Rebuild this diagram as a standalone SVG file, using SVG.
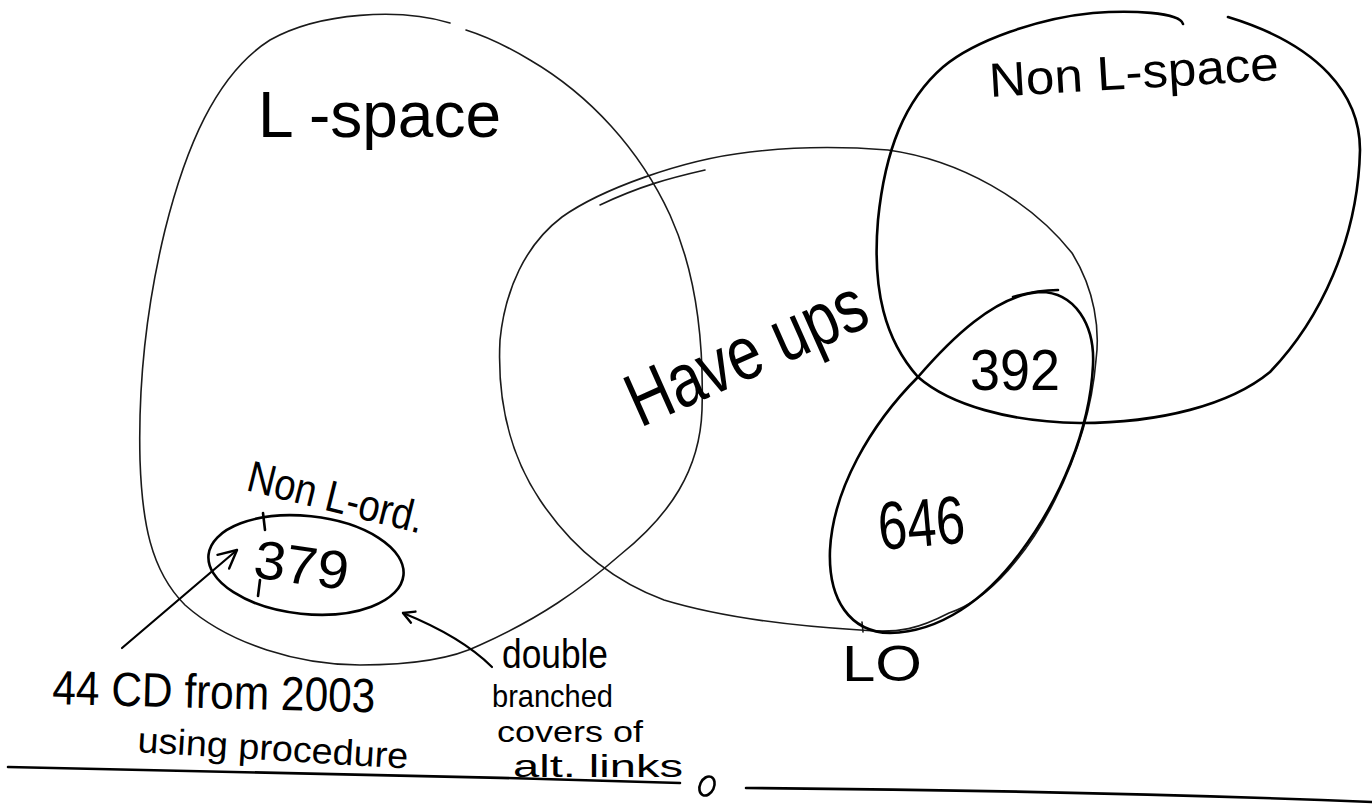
<svg xmlns="http://www.w3.org/2000/svg" width="1372" height="804" viewBox="0 0 1372 804">
<style>
.bg{fill:#fff}
.thin{fill:none;stroke:#1a1a1a;stroke-width:1.6;stroke-linecap:round;stroke-linejoin:round}
.thick{fill:none;stroke:#000;stroke-width:2.6;stroke-linecap:round;stroke-linejoin:round}
.t{font-family:"Liberation Sans","DejaVu Sans",sans-serif;fill:#000}
.conn{fill:none;stroke:#000;stroke-width:2.2;stroke-linecap:round}
</style>
<defs>
<marker id="headL" markerUnits="userSpaceOnUse" viewBox="-24 -14 28 28" markerWidth="28" markerHeight="28" refX="0" refY="0" orient="auto">
<path d="M -18,-9 L 0,0 L -18,9" fill="none" stroke="#000" stroke-width="2.4" stroke-linecap="round" stroke-linejoin="round"/>
</marker>
<marker id="headS" markerUnits="userSpaceOnUse" viewBox="-16 -10 20 20" markerWidth="20" markerHeight="20" refX="0" refY="0" orient="auto">
<path d="M -11,-6 L 0,0 L -11,6" fill="none" stroke="#000" stroke-width="2.4" stroke-linecap="round" stroke-linejoin="round"/>
</marker>
</defs>
<rect class="bg" x="0" y="0" width="1372" height="804"/>

<g id="l-space">
<path class="thin" d="M 450,23 C 400,8 320,12 270,40 C 215,75 185,150 165,230 C 148,300 138,380 140,460 C 142,520 150,570 185,605 C 230,645 300,665 360,665 C 410,665 450,660 480,645 C 540,618 580,590 620,555 C 670,515 700,470 702,410 C 704,340 695,270 670,215 C 640,150 590,95 530,60 C 505,45 485,36 466,30"/>
<text class="t" x="258" y="137" font-size="64" textLength="243" lengthAdjust="spacingAndGlyphs">L -space</text>
</g>

<g id="have-ups">
<path class="thin" d="M 500,340 C 505,290 525,245 562,217 C 600,190 680,160 750,152 C 800,146 850,147 888,150 C 960,160 1030,200 1072,253 C 1095,290 1100,330 1096,360 C 1092,410 1075,460 1055,500 C 1030,550 990,600 949,613 C 920,628 900,634 860,630 C 810,627 730,620 664,600 C 610,580 570,545 540,500 C 510,455 497,400 500,340 Z"/>
<path class="thin" d="M 600,205 C 640,186 670,178 705,170"/>
<path class="thin" d="M 862,622 L 863,632"/>
<text class="t" x="640" y="428" font-size="76" textLength="255" lengthAdjust="spacingAndGlyphs" transform="rotate(-24 640 428)">Have ups</text>
</g>

<g id="non-l-space">
<path class="thick" d="M 1183,24 C 1180,12 1130,10 1093,13 C 1040,18 975,40 943,67 C 905,100 885,150 878,220 C 872,290 885,340 918,377 C 950,405 1010,422 1080,423 C 1160,423 1230,405 1270,372 C 1320,320 1358,240 1360,150 C 1360,95 1320,45 1228,17"/>
<text class="t" x="990" y="97" font-size="48" textLength="290" lengthAdjust="spacingAndGlyphs" transform="rotate(-3.4 990 97)">Non L-space</text>
<text class="t" x="970" y="390" font-size="58" textLength="90" lengthAdjust="spacingAndGlyphs">392</text>
</g>

<g id="lo">
<path class="thick" d="M 1040,292 C 1075,292 1095,325 1093,365 C 1090,430 1060,500 1020,553 C 985,600 940,632 890,633 C 850,632 828,600 830,550 C 833,490 870,425 918,377 C 950,340 995,295 1040,292 Z"/>
<path class="thick" d="M 1013,297 C 1030,292 1045,290 1058,290"/>
<text class="t" x="880" y="550" font-size="68" textLength="87" lengthAdjust="spacingAndGlyphs" transform="rotate(-5 880 550)">646</text>
<text class="t" x="842" y="681" font-size="50" textLength="80" lengthAdjust="spacingAndGlyphs">LO</text>
</g>

<g id="non-l-ord">
<ellipse class="thick" cx="306" cy="565" rx="98" ry="49" transform="rotate(6 306 565)"/>
<path class="thick" d="M 263,513 L 265,530 M 260,580 L 258,596"/>
<text class="t" x="245" y="490" font-size="44" textLength="180" lengthAdjust="spacingAndGlyphs" transform="rotate(14 245 490)">Non L-ord.</text>
<text class="t" x="252" y="577" font-size="54" textLength="95" lengthAdjust="spacingAndGlyphs" transform="rotate(8 252 577)">379</text>
</g>

<g id="note-cd">
<text class="t" x="52" y="704" font-size="48" textLength="323" lengthAdjust="spacingAndGlyphs" transform="rotate(1.5 52 704)">44 CD from 2003</text>
<text class="t" x="137" y="752" font-size="36" textLength="271" lengthAdjust="spacingAndGlyphs" transform="rotate(3.5 137 752)">using procedure</text>
</g>

<g id="note-double">
<text class="t" x="502" y="668" font-size="40" textLength="106" lengthAdjust="spacingAndGlyphs">double</text>
<text class="t" x="492" y="707" font-size="32" textLength="121" lengthAdjust="spacingAndGlyphs">branched</text>
<text class="t" x="497" y="742" font-size="30" textLength="146" lengthAdjust="spacingAndGlyphs">covers of</text>
<text class="t" x="513" y="777" font-size="32" textLength="170" lengthAdjust="spacingAndGlyphs">alt. links</text>
</g>

<g id="baseline">
<path class="thick" d="M 8,767 C 200,770 450,776 680,783"/>
<ellipse class="thick" cx="707" cy="786" rx="7" ry="10" transform="rotate(25 707 786)"/>
<path class="thick" d="M 746,788 C 1000,790 1200,795 1372,802"/>
</g>

<g id="connectors">
<path class="conn" d="M 122,648 L 237,550" marker-end="url(#headL)"/>
<path class="conn" d="M 492,667 C 470,645 440,628 403,613" marker-end="url(#headS)"/>
</g>
</svg>
